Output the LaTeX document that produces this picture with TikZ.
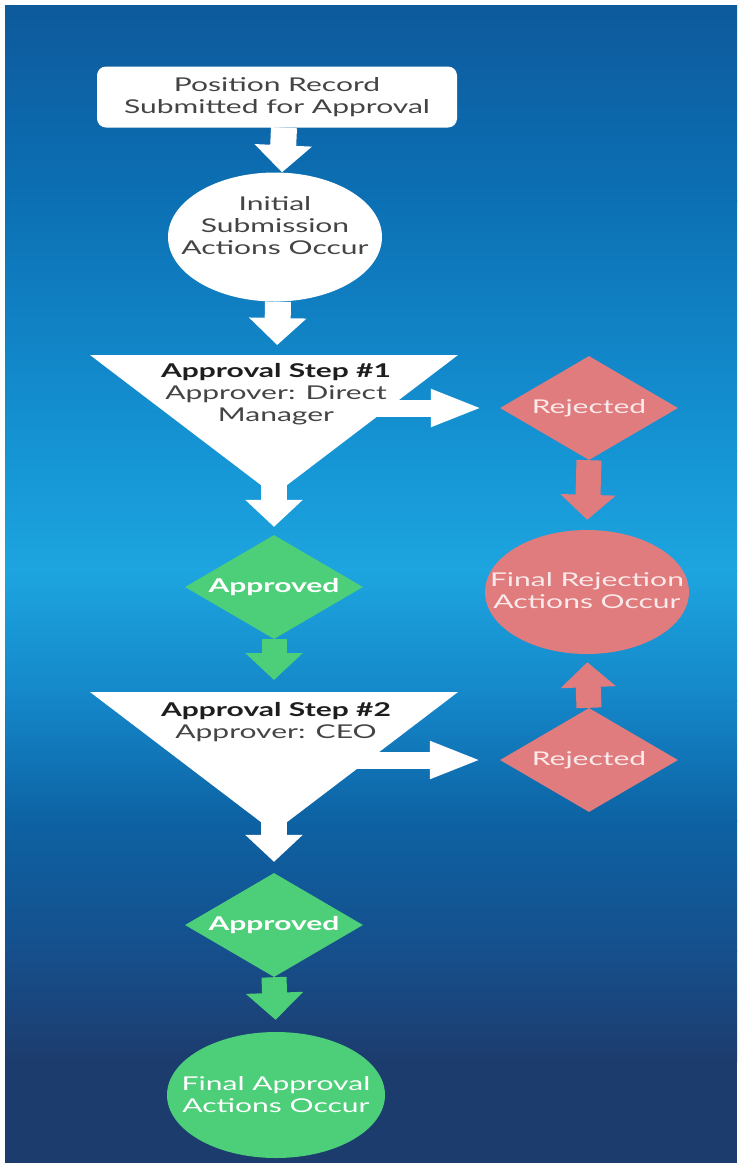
\documentclass[tikz,border=0pt]{standalone}
\usepackage{fontspec}
\setmainfont{Lato}[FakeStretch=1.58]
\usetikzlibrary{shapes.geometric,arrows.meta,calc}
\definecolor{bg0}{HTML}{0D5A9C}
\definecolor{bg1}{HTML}{0C70B4}
\definecolor{bg2}{HTML}{1594D4}
\definecolor{bg3}{HTML}{1DA5DF}
\definecolor{bg4}{HTML}{1486C8}
\definecolor{bg5}{HTML}{0D62A3}
\definecolor{bg6}{HTML}{164F8C}
\definecolor{bg7}{HTML}{1D3C6E}
\definecolor{okgreen}{HTML}{4CCF78}
\definecolor{nored}{HTML}{E07B7E}
\definecolor{darktext}{HTML}{444444}
\definecolor{titletext}{HTML}{1E1E1E}
\definecolor{redtext}{HTML}{FBEAEA}
\begin{document}
\begin{tikzpicture}[x=1pt,y=-1pt,
  whitebox/.style={fill=white, rounded corners=9pt, minimum width=360pt, minimum height=61pt, inner sep=0pt, text=darktext, font=\fontsize{19}{22}\selectfont, align=center},
  blob/.style={ellipse, inner sep=0pt},
  rhomb/.style={diamond, aspect=1.7, inner sep=0pt, minimum width=178pt, minimum height=104pt},
  lbl/.style={align=center, font=\fontsize{19}{22}\selectfont},
  varrow/.style={draw=white, line width=26pt, -{Triangle[width=56pt,length=27pt]}},
  garrow/.style={draw=okgreen, line width=25pt, -{Triangle[width=56pt,length=27pt]}},
  rarrow/.style={draw=nored, line width=25pt, -{Triangle[width=54pt,length=25pt]}},
  harrow/.style={draw=white, line width=17pt, -{Triangle[width=34pt,length=52pt]}},
  tri/.style={fill=white}
]
\useasboundingbox (0,0) rectangle (737,1163);
\fill[white] (0,0) rectangle (737,1163);
% background gradient
\shade[top color=bg0, bottom color=bg1] (5,5) rectangle (737,201);
\shade[top color=bg1, bottom color=bg2] (5,200) rectangle (737,451);
\shade[top color=bg2, bottom color=bg3] (5,450) rectangle (737,571);
\shade[top color=bg3, bottom color=bg4] (5,570) rectangle (737,701);
\shade[top color=bg4, bottom color=bg5] (5,700) rectangle (737,821);
\shade[top color=bg5, bottom color=bg6] (5,820) rectangle (737,951);
\shade[top color=bg6, bottom color=bg7] (5,950) rectangle (737,1061);
\fill[bg7] (5,1060) rectangle (737,1163);

% nodes
\node[whitebox] (box) at (277,97) {Position Record\\Submitted for Approval};

\node[blob, fill=white, minimum width=214pt, minimum height=129pt] (c1) at (275,237) {};
\node[lbl, text=darktext] (c1t) at (275,226) {Initial\\Submission\\Actions Occur};

\coordinate (t1top) at (274,355);
\coordinate (t1apex) at (274,495);
\fill[tri] (90,355) -- (458,355) -- (t1apex) -- cycle;
\node[lbl, text=darktext] (t1t) at (276,394) {{\bfseries\color{titletext}Approval Step \#1}\\Approver: Direct\\Manager};

\node[rhomb, fill=okgreen, text=white, font=\fontsize{19}{22}\selectfont\bfseries] (ap1) at (274,587) {Approved};
\node[rhomb, fill=nored, text=redtext, font=\fontsize{19}{22}\selectfont] (rj1) at (589,408) {Rejected};
\node[blob, fill=nored, minimum width=204pt, minimum height=124pt] (fr) at (587,592) {};
\node[lbl, text=redtext] (frt) at (587,591) {Final Rejection\\Actions Occur};

\coordinate (t2top) at (274,692);
\coordinate (t2apex) at (274,832);
\fill[tri] (90,692) -- (458,692) -- (t2apex) -- cycle;
\node[lbl, text=darktext] (t2t) at (276,722) {{\bfseries\color{titletext}Approval Step \#2}\\Approver: CEO};

\node[rhomb, fill=nored, text=redtext, font=\fontsize{19}{22}\selectfont] (rj2) at (589,760) {Rejected};
\node[rhomb, fill=okgreen, text=white, font=\fontsize{19}{22}\selectfont\bfseries] (ap2) at (274,925) {Approved};
\node[blob, fill=okgreen, minimum width=218pt, minimum height=126pt] (fa) at (276,1095) {};
\node[lbl, text=white] (fat) at (276,1095) {Final Approval\\Actions Occur};

\coordinate (h1start) at (360,408);
\coordinate (h2start) at (340,760);

% connectors
\draw[varrow] ([xshift=7pt]box.south) -- ([xshift=7pt]c1.north);
\draw[varrow, shorten >=10pt] ([xshift=3pt]c1.south) -- ([xshift=3pt]t1top);
\draw[varrow, shorten >=8pt] ([yshift=15pt]t1apex) -- (ap1.north);
\draw[harrow, shorten >=17pt] (h1start) -- (rj1.west);
\draw[rarrow, shorten >=10pt] (rj1.south) -- (fr.north);
\draw[garrow, shorten >=12pt] (ap1.south) -- (t2top);
\draw[varrow, shorten >=11pt] ([yshift=22pt]t2apex) -- (ap2.north);
\draw[harrow, shorten >=18pt] (h2start) -- (rj2.west);
\draw[rarrow, shorten >=8pt] (rj2.north) -- (fr.south);
\draw[garrow, shorten >=12pt] (ap2.south) -- (fa.north);
\end{tikzpicture}
\end{document}
